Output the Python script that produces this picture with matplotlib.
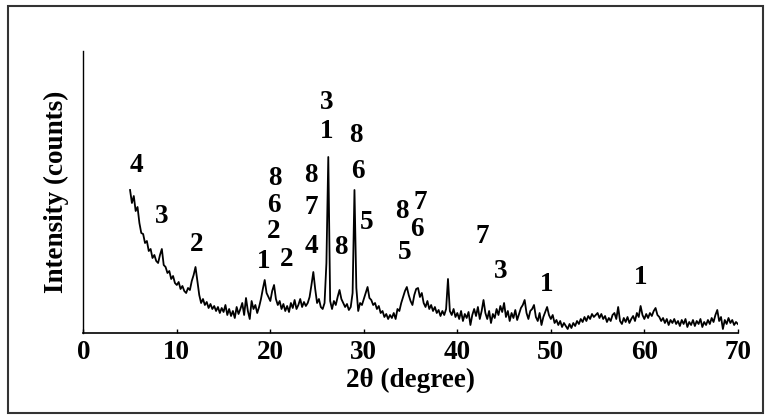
import matplotlib.pyplot as plt
import numpy as np
from matplotlib.patches import Rectangle

# XRD scan: 5-70 deg 2theta, step 0.2 deg, intensities (arb. counts)
scan_start = 5.0
scan_step = 0.2

intensity = [
    # 5.0 - 9.8
    143, 130, 137, 122, 126, 110, 100, 99, 90, 92, 82, 84, 75, 78, 72, 70, 78, 84, 68, 66, 60, 62, 54, 57, 50,
    # 10.0 - 14.8
    48, 51, 44, 47, 42, 40, 45, 43, 52, 58, 66, 52, 38, 30, 34, 28, 31, 25, 29, 24, 27, 22, 26, 20, 25,
    # 15.0 - 19.8
    21, 28, 18, 24, 17, 22, 15, 26, 19, 24, 30, 18, 35, 22, 14, 32, 24, 28, 20, 26, 34, 44, 53, 40, 36,
    # 20.0 - 24.8
    32, 42, 48, 34, 28, 32, 24, 29, 22, 27, 21, 30, 25, 33, 24, 28, 34, 26, 31, 27, 30, 36, 48, 61, 44,
    # 25.0 - 29.8
    30, 34, 26, 24, 30, 70, 176, 32, 24, 32, 28, 36, 43, 34, 30, 26, 29, 23, 26, 40, 143, 45, 22, 30, 28,
    # 30.0 - 34.8
    34, 40, 46, 35, 33, 28, 30, 24, 27, 20, 22, 16, 19, 14, 18, 15, 20, 14, 24, 22, 30, 36, 42, 46, 38,
    # 35.0 - 39.8
    32, 28, 38, 44, 45, 36, 40, 30, 26, 32, 24, 28, 22, 26, 20, 23, 17, 22, 18, 24, 54, 22, 18, 24, 16,
    # 40.0 - 44.8
    20, 14, 22, 12, 19, 15, 21, 8, 18, 24, 17, 26, 14, 22, 33, 20, 14, 22, 10, 19, 15, 24, 18, 27, 21,
    # 45.0 - 49.8
    30, 16, 22, 12, 20, 15, 23, 13, 19, 25, 28, 33, 20, 14, 22, 24, 28, 16, 12, 20, 8, 16, 21, 26, 18,
    # 50.0 - 54.8
    14, 18, 10, 13, 8, 12, 6, 10, 7, 4, 9, 5, 10, 7, 12, 9, 14, 11, 16, 12, 17, 14, 19, 16, 18,
    # 55.0 - 59.8
    20, 15, 19, 14, 17, 11, 15, 12, 18, 20, 14, 26, 12, 9, 15, 11, 16, 10, 14, 17, 12, 20, 16, 27, 18,
    # 60.0 - 64.8
    14, 19, 15, 20, 17, 22, 25, 18, 16, 12, 15, 10, 14, 8, 13, 10, 14, 9, 12, 7, 13, 9, 14, 6, 11,
    # 65.0 - 70.0
    8, 13, 7, 12, 9, 14, 6, 11, 8, 13, 9, 15, 11, 18, 23, 12, 16, 4, 13, 9, 15, 10, 13, 8, 11, 9,
]

# phase labels: (2theta, intensity level, text)
label_pos = [
    (5.64, 168, "4"), (8.38, 116, "3"), (12.1, 88, "2"),
    (19.25, 71, "1"), (20.4, 101, "2"), (20.4, 127, "6"), (20.5, 155, "8"), (21.7, 73, "2"),
    (24.35, 86, "4"), (24.35, 125, "7"), (24.35, 158, "8"),
    (26.0, 202, "1"), (26.0, 231, "3"), (27.5, 85, "8"),
    (29.2, 198, "8"), (29.4, 162, "6"), (30.3, 110, "5"),
    (34.4, 80, "5"), (34.05, 121, "8"), (35.7, 103, "6"), (36.0, 130, "7"),
    (42.7, 96, "7"), (44.6, 61, "3"), (49.6, 48, "1"), (59.6, 55, "1"),
]

y_top = 282
fs = 19.5

plt.rcParams["font.family"] = ["Liberation Serif", "DejaVu Serif"]
plt.rcParams["font.weight"] = "bold"

two_theta = scan_start + scan_step * np.arange(len(intensity))

fig = plt.figure(figsize=(7.67, 4.15), dpi=100)
ax = fig.add_axes([0.1086, 0.1976, 0.8534, 0.6795])

ax.plot(two_theta, intensity, color="black", linewidth=1.3)
for x, y, s in label_pos:
    ax.text(x, y, s, ha="center", va="center", fontsize=fs, fontweight="bold")

ax.set_xlim(0, 70)
ax.set_ylim(0, y_top)
ax.set_xticks(range(0, 71, 10))
ax.set_yticks([])
ax.tick_params(axis="x", direction="in", length=3, width=1, labelsize=fs, pad=5)
for lab in ax.get_xticklabels():
    lab.set_fontweight("bold")
ax.spines["top"].set_visible(False)
ax.spines["right"].set_visible(False)
ax.spines["left"].set_linewidth(1.0)
ax.spines["bottom"].set_linewidth(1.2)
ax.set_xlabel("2θ (degree)", fontsize=fs, fontweight="bold", labelpad=2)
ax.set_ylabel("Intensity (counts)", fontsize=fs, fontweight="bold", labelpad=10)

fig.add_artist(Rectangle((0.0104, 0.005), 0.9844, 0.9805, transform=fig.transFigure,
                         fill=False, edgecolor="#333333", linewidth=1.5))

fig.savefig("out.png", dpi=100)
